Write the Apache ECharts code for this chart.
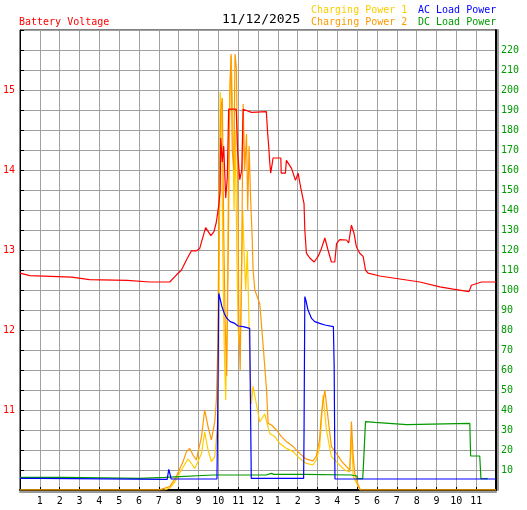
<!DOCTYPE html>
<html>
<head>
<meta charset="utf-8">
<script src="https://cdn.jsdelivr.net/npm/echarts@6/dist/echarts.min.js"></script>
<style>
  html, body { margin: 0; padding: 0; background: #fff; }
  #powerChart { width: 527px; height: 510px; }
</style>
</head>
<body>
<div id="powerChart"></div>
<script>
// [hour of day, value] samples
var batteryVoltage = [[0,12.71],[0.49,12.68],[2.6,12.66],[3.5,12.63],[5.4,12.62],[6.55,12.6],[7.55,12.6],[7.89,12.69],[8.14,12.75],[8.39,12.875],[8.64,12.99],[8.9,12.99],[9.06,13.02],[9.23,13.17],[9.36,13.28],[9.62,13.18],[9.78,13.23],[9.9,13.35],[10.02,13.56],[10.09,13.73],[10.12,14.4],[10.2,14.1],[10.27,14.3],[10.37,13.65],[10.45,13.9],[10.52,14.76],[10.9,14.76],[10.98,14.2],[11.08,13.88],[11.18,14.0],[11.25,14.76],[11.67,14.72],[12.42,14.73],[12.48,14.48],[12.54,14.29],[12.59,14.1],[12.64,13.96],[12.76,14.15],[13.15,14.15],[13.17,13.96],[13.38,13.96],[13.43,14.12],[13.69,14.02],[13.89,13.87],[14.02,13.96],[14.16,13.77],[14.32,13.58],[14.36,13.25],[14.44,12.96],[14.61,12.9],[14.83,12.85],[15.03,12.92],[15.2,13.02],[15.37,13.15],[15.53,13.0],[15.7,12.85],[15.87,12.85],[15.96,13.08],[16.12,13.13],[16.46,13.125],[16.57,13.09],[16.71,13.31],[16.84,13.21],[16.96,13.04],[17.13,12.96],[17.3,12.92],[17.42,12.75],[17.55,12.71],[18.14,12.675],[18.81,12.65],[19.49,12.625],[20.16,12.6],[21.17,12.54],[21.84,12.51],[22.64,12.48],[22.76,12.56],[23.27,12.6],[24,12.6]];

var chargingPower1 = [[0,0],[7.3,0],[7.55,1],[7.8,4],[8.14,10],[8.47,15.5],[8.66,13],[8.81,10.8],[8.96,14],[9.15,18.3],[9.31,29],[9.48,20],[9.65,14.2],[9.82,16.7],[9.95,31.7],[10.02,60],[10.06,140],[10.09,199],[10.16,190],[10.22,120],[10.3,70],[10.37,45],[10.45,90],[10.52,170],[10.6,205],[10.65,217],[10.72,190],[10.79,140],[10.85,180],[10.93,120],[11.0,80],[11.08,70],[11.15,90],[11.23,140],[11.31,115],[11.38,100],[11.46,120],[11.53,90],[11.59,62],[11.67,43],[11.75,52],[11.84,47],[12.09,34],[12.34,38],[12.59,28.3],[12.84,26.7],[13.1,23.3],[13.43,20.8],[13.77,19.2],[14.1,15.8],[14.44,13.3],[14.77,12.5],[14.94,15],[15.11,21.7],[15.2,35],[15.28,47.5],[15.45,30],[15.7,16.7],[16.04,13.3],[16.37,10],[16.63,9],[16.71,27],[16.8,7],[17.05,1.7],[17.15,0],[24,0]];

var chargingPower2 = [[0,0],[6.99,0],[7.55,1.7],[7.88,6.7],[8.22,14.2],[8.39,19.2],[8.56,20.8],[8.72,17.5],[8.89,15],[9.15,26.7],[9.31,40],[9.48,31.7],[9.65,25],[9.82,34.2],[9.9,45],[9.98,75],[10.04,150],[10.12,190],[10.2,196],[10.27,130],[10.35,80],[10.42,57],[10.5,120],[10.58,200],[10.64,218],[10.7,170],[10.78,160],[10.84,218],[10.91,211],[10.98,150],[11.04,80],[11.1,60],[11.18,120],[11.25,193],[11.33,160],[11.42,178],[11.48,140],[11.55,172],[11.63,145],[11.71,125],[11.75,110],[11.84,100],[12.09,93],[12.26,72],[12.43,50],[12.51,33.3],[12.68,32.5],[12.93,30],[13.18,26.7],[13.43,24.2],[13.77,21.7],[14.1,18.3],[14.44,15.4],[14.77,14.6],[14.94,17],[15.1,25],[15.2,38.3],[15.37,50],[15.53,36],[15.7,21.7],[15.95,18.3],[16.2,14.6],[16.46,11.7],[16.63,10],[16.71,34.2],[16.8,16.7],[16.88,8.3],[17.05,2.5],[17.17,0],[24,0]];

var acLoadPower = [[0,5.8],[1.0,5.8],[1.05,5.3],[7.42,5.3],[7.5,10.3],[7.56,8],[7.62,5.5],[9.93,5.5],[9.98,50],[10.02,98.3],[10.1,95],[10.18,91.7],[10.3,88.3],[10.43,85.8],[10.6,84.2],[10.83,83.3],[11.0,82],[11.25,81.7],[11.58,80.8],[11.62,43],[11.66,5.8],[14.3,5.8],[14.32,28],[14.36,96.7],[14.41,95],[14.52,90],[14.7,85.8],[14.86,84.2],[15.11,83.3],[15.37,82.5],[15.8,81.7],[15.84,61.7],[15.88,5.5],[24,5.5]];

var dcLoadPower = [[0,6.3],[2.26,6.3],[2.3,5.8],[6.04,5.8],[6.08,6.3],[7.3,6.3],[7.35,7.3],[9.7,7.5],[9.74,8.3],[9.8,7.2],[12.4,7.5],[12.68,8.3],[12.8,7.8],[14.3,7.8],[16.71,7.5],[16.98,7],[17.03,5.7],[17.28,5.7],[17.32,13.3],[17.42,34.2],[17.5,33.3],[17.9,33.8],[18.0,33.3],[19.5,32.7],[19.6,33.3],[22.68,33.3],[22.72,17],[23.18,17],[23.24,5.7],[23.59,5.7]];

var chartDate = "11/12/2025";

var mono = "DejaVu Sans Mono";
var gridColor = "#a0a0a0";
var lineW = 1.2;

function titleStyle(color, size) {
  return { color: color, fontFamily: mono, fontSize: size, fontWeight: "normal" };
}

var option = {
  backgroundColor: "#fff",
  animation: false,
  title: [
    { text: "Battery Voltage", left: 19, top: 17, padding: 0, textStyle: titleStyle("#ff0000", 10) },
    { text: chartDate, left: 222, top: 13, padding: 0, textStyle: titleStyle("#000", 13) },
    { text: "Charging Power 1", left: 311, top: 5, padding: 0, textStyle: titleStyle("#ffcc00", 10) },
    { text: "Charging Power 2", left: 311, top: 17, padding: 0, textStyle: titleStyle("#ff9900", 10) },
    { text: "AC Load Power", left: 418, top: 5, padding: 0, textStyle: titleStyle("#0000ff", 10) },
    { text: "DC Load Power", left: 418, top: 17, padding: 0, textStyle: titleStyle("#009900", 10) }
  ],
  grid: { left: 20, right: 31, top: 30, bottom: 20, show: true, borderColor: "#000", borderWidth: 1 },
  xAxis: {
    type: "value", min: 0, max: 24, interval: 1,
    axisLine: { lineStyle: { color: "#000", width: 2, shadowColor: "#999", shadowOffsetY: 2 } },
    axisTick: { inside: true, length: 3, lineStyle: { color: "#000" } },
    splitLine: { show: true, lineStyle: { color: gridColor, width: 1 } },
    axisLabel: {
      color: "#000", fontFamily: mono, fontSize: 10, margin: 6,
      formatter: function (v) {
        if (v <= 0 || v >= 24) return "";
        var h = v % 12;
        return h === 0 ? "12" : String(h);
      }
    }
  },
  yAxis: [
    {
      type: "value", min: 10, max: 15.75, interval: 0.25, position: "left",
      axisLine: { show: true, lineStyle: { color: "#000", width: 1 } },
      axisTick: { show: true, inside: true, length: 4, lineStyle: { color: "#000" } },
      splitLine: { show: true, lineStyle: { color: gridColor, width: 1 } },
      axisLabel: {
        color: "#ff0000", fontFamily: mono, fontSize: 10, margin: 5,
        formatter: function (v) { return (v > 10 && v % 1 === 0) ? String(v) : ""; }
      }
    },
    {
      type: "value", min: 0, max: 230, interval: 10, position: "right",
      axisLine: { show: true, lineStyle: { color: "#000", width: 2, shadowColor: "#999", shadowOffsetX: 2 } },
      axisTick: { show: false },
      splitLine: { show: false },
      axisLabel: {
        color: "#009900", fontFamily: mono, fontSize: 10, margin: 5,
        formatter: function (v) { return (v > 0 && v < 230) ? String(v) : ""; }
      }
    }
  ],
  series: [
    { name: "Charging Power 1", type: "line", yAxisIndex: 1, data: chargingPower1, symbol: "none", lineStyle: { color: "#ffcc00", width: lineW } },
    { name: "Charging Power 2", type: "line", yAxisIndex: 1, data: chargingPower2, symbol: "none", lineStyle: { color: "#ff9900", width: lineW } },
    { name: "DC Load Power", type: "line", yAxisIndex: 1, data: dcLoadPower, symbol: "none", lineStyle: { color: "#009900", width: lineW } },
    { name: "AC Load Power", type: "line", yAxisIndex: 1, data: acLoadPower, symbol: "none", lineStyle: { color: "#0000ff", width: lineW } },
    { name: "Battery Voltage", type: "line", yAxisIndex: 0, data: batteryVoltage, symbol: "none", lineStyle: { color: "#ff0000", width: lineW } }
  ]
};

var myChart = echarts.init(document.getElementById("powerChart"));
myChart.setOption(option);
</script>
</body>
</html>
